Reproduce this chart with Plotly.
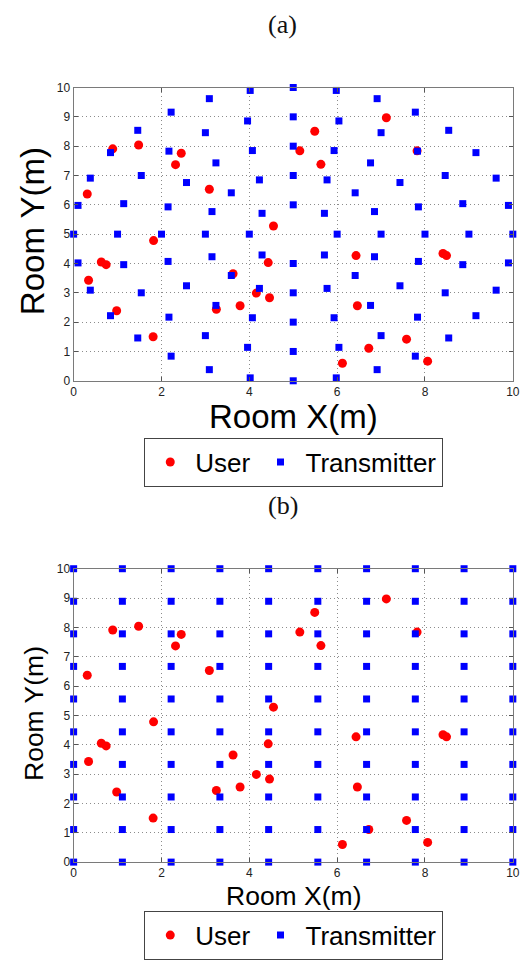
import plotly.graph_objects as go

# ---------------- data ----------------
# Users (same positions in both panels)
user_x = [0.89, 1.48, 0.31, 2.45, 2.32, 3.09, 1.82, 0.63, 0.74, 3.63, 7.12, 5.49, 5.15, 5.63, 7.82, 4.55,
          6.43, 8.41, 8.49, 4.43, 0.34, 0.98, 1.81, 3.25, 3.79, 4.16, 4.46, 6.46, 7.58, 6.72, 6.12, 8.06]
user_y = [7.91, 8.04, 6.37, 7.76, 7.37, 6.53, 4.78, 4.05, 3.96, 3.65, 8.97, 8.51, 7.84, 7.38, 7.84, 5.28,
          4.27, 4.34, 4.27, 4.03, 3.43, 2.39, 1.50, 2.44, 2.56, 2.99, 2.83, 2.56, 1.42, 1.11, 0.60, 0.67]

# Panel (a): transmitters on concentric rings around the room centre
ring5_x = [10, 9.90, 9.62, 9.16, 8.54, 7.78, 6.91, 5.98, 5, 4.02, 3.09, 2.22, 1.46, 0.84, 0.38, 0.10,
           0, 0.10, 0.38, 0.84, 1.46, 2.22, 3.09, 4.02, 5, 5.98, 6.91, 7.78, 8.54, 9.16, 9.62, 9.90]
ring5_y = [5, 5.98, 6.91, 7.78, 8.54, 9.16, 9.62, 9.90, 10, 9.90, 9.62, 9.16, 8.54, 7.78, 6.91, 5.98,
           5, 4.02, 3.09, 2.22, 1.46, 0.84, 0.38, 0.10, 0, 0.10, 0.38, 0.84, 1.46, 2.22, 3.09, 4.02]
ring4_x = [9, 8.86, 8.46, 7.83, 7, 6.04, 5, 3.96, 3, 2.17, 1.54, 1.14,
           1, 1.14, 1.54, 2.17, 3, 3.96, 5, 6.04, 7, 7.83, 8.46, 8.86]
ring4_y = [5, 6.04, 7, 7.83, 8.46, 8.86, 9, 8.86, 8.46, 7.83, 7, 6.04,
           5, 3.96, 3, 2.17, 1.54, 1.14, 1, 1.14, 1.54, 2.17, 3, 3.96]
ring3_x = [8, 7.85, 7.43, 6.76, 5.93, 5, 4.07, 3.24, 2.57, 2.15,
           2, 2.15, 2.57, 3.24, 4.07, 5, 5.93, 6.76, 7.43, 7.85]
ring3_y = [5, 5.93, 6.76, 7.43, 7.85, 8, 7.85, 7.43, 6.76, 5.93,
           5, 4.07, 3.24, 2.57, 2.15, 2, 2.15, 2.57, 3.24, 4.07]
ring2_x = [7, 6.85, 6.41, 5.77, 5, 4.23, 3.59, 3.15, 3, 3.15, 3.59, 4.23, 5, 5.77, 6.41, 6.85]
ring2_y = [5, 5.77, 6.41, 6.85, 7, 6.85, 6.41, 5.77, 5, 4.23, 3.59, 3.15, 3, 3.15, 3.59, 4.23]
ring1_x = [6, 5.71, 5, 4.29, 4, 4.29, 5, 5.71]
ring1_y = [5, 5.71, 6, 5.71, 5, 4.29, 4, 4.29]

# Panel (b): transmitters on a regular 10 x 10 grid
grid_pos = [0, 1.11, 2.22, 3.33, 4.44, 5.56, 6.67, 7.78, 8.89, 10]

x_ticks = [0, 2, 4, 6, 8, 10]
y_ticks = [0, 1, 2, 3, 4, 5, 6, 7, 8, 9, 10]

# ---------------- build ----------------
tx_a = ring5_x + ring4_x + ring3_x + ring2_x + ring1_x
ty_a = ring5_y + ring4_y + ring3_y + ring2_y + ring1_y
tx_b = [gx for gy in grid_pos for gx in grid_pos]
ty_b = [gy for gy in grid_pos for gx in grid_pos]

W, H = 527, 964
def px_x(p):
    return p / W
def px_y(p):
    return 1 - p / H

RED = "#ff0000"
BLUE = "#0000ff"
SANS = "Liberation Sans, Arial, sans-serif"
SERIF = "Liberation Serif, DejaVu Serif, serif"

fig = go.Figure()
fig.add_trace(go.Scatter(x=user_x, y=user_y, mode="markers", name="User",
                         marker=dict(symbol="circle", size=9, color=RED),
                         xaxis="x", yaxis="y", legend="legend", cliponaxis=False))
fig.add_trace(go.Scatter(x=tx_a, y=ty_a, mode="markers", name="Transmitter",
                         marker=dict(symbol="square", size=7, color=BLUE),
                         xaxis="x", yaxis="y", legend="legend", cliponaxis=False))
fig.add_trace(go.Scatter(x=user_x, y=user_y, mode="markers", name="User",
                         marker=dict(symbol="circle", size=9, color=RED),
                         xaxis="x2", yaxis="y2", legend="legend2", cliponaxis=False))
fig.add_trace(go.Scatter(x=tx_b, y=ty_b, mode="markers", name="Transmitter",
                         marker=dict(symbol="square", size=7, color=BLUE),
                         xaxis="x2", yaxis="y2", legend="legend2", cliponaxis=False))

xdom = [px_x(72), px_x(519.7)]
axis_common = dict(range=[0, 10], showgrid=True, gridcolor="#8c8c8c", griddash="1px,3px", gridwidth=1,
                   showline=True, linecolor="#7a7a7a", linewidth=1, mirror="ticks",
                   ticks="inside", ticklen=4, tickcolor="#555555", zeroline=False,
                   tickfont=dict(family=SANS, size=12, color="#222222"), fixedrange=True)

fig.update_layout(
    width=W, height=H, margin=dict(l=0, r=0, t=0, b=0),
    paper_bgcolor="white", plot_bgcolor="white",
    xaxis=dict(domain=xdom, anchor="y", tickvals=x_ticks, **axis_common),
    yaxis=dict(domain=[px_y(379.3), px_y(81.7)], anchor="x", tickvals=y_ticks, **axis_common),
    xaxis2=dict(domain=xdom, anchor="y2", tickvals=x_ticks, **axis_common),
    yaxis2=dict(domain=[px_y(867.7), px_y(570)], anchor="x2", tickvals=y_ticks, **axis_common),
    legend=dict(orientation="h", x=px_x(144), y=px_y(437), xanchor="left", yanchor="top",
                bordercolor="#444444", borderwidth=1, bgcolor="white", itemwidth=40,
                font=dict(family=SANS, size=26, color="black")),
    legend2=dict(orientation="h", x=px_x(144), y=px_y(917), xanchor="left", yanchor="top",
                 bordercolor="#444444", borderwidth=1, bgcolor="white", itemwidth=40,
                 font=dict(family=SANS, size=26, color="black")),
    showlegend=True,
)

annotations = [
    dict(text="(a)", x=px_x(285), y=px_y(17.5), font=dict(family=SERIF, size=26, color="#111")),
    dict(text="(b)", x=px_x(285), y=px_y(505.5), font=dict(family=SERIF, size=26, color="#111")),
    dict(text="Room X(m)", x=px_x(295.8), y=px_y(416), font=dict(family=SANS, size=33, color="black")),
    dict(text="Room Y(m)", x=px_x(30), y=px_y(227), textangle=-90,
         font=dict(family=SANS, size=33, color="black")),
    dict(text="Room X(m)", x=px_x(295.8), y=px_y(902.3), font=dict(family=SANS, size=26.5, color="black")),
    dict(text="Room Y(m)", x=px_x(31), y=px_y(717), textangle=-90,
         font=dict(family=SANS, size=26.5, color="black")),
]
for a in annotations:
    a.update(xref="paper", yref="paper", showarrow=False, xanchor="center", yanchor="middle")
fig.update_layout(annotations=annotations)

fig.write_html("out.html", config={"displayModeBar": False},
               post_script="document.body.style.margin='0px';")
